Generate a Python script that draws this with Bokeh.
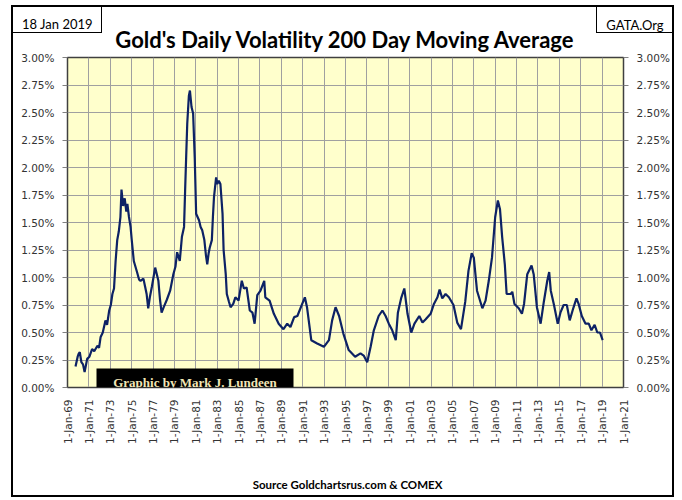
from bokeh.plotting import figure
from bokeh.models import (Range1d, LinearAxis, FixedTicker, PrintfTickFormatter,
                          Label, BoxAnnotation, ColumnDataSource, InlineStyleSheet)
from bokeh.embed import file_html
from bokeh.resources import INLINE
import math

# ---- data (decimal year, volatility in %) ----
years = [1969.75, 1969.95, 1970.06, 1970.15, 1970.3, 1970.45, 1970.6, 1970.84, 1971.05, 1971.3,
         1971.5, 1971.8, 1971.95, 1972.1, 1972.3, 1972.55, 1972.7, 1972.9, 1973.05, 1973.2,
         1973.35, 1973.5, 1973.65, 1973.8, 1973.95, 1974.05, 1974.2, 1974.35, 1974.5, 1974.6,
         1974.75, 1974.9, 1975.0, 1975.2, 1975.5, 1975.7, 1975.83, 1976.1, 1976.25, 1976.4,
         1976.55, 1976.7, 1976.9, 1977.2, 1977.5, 1977.65, 1977.8, 1978.0, 1978.3, 1978.6,
         1978.9, 1979.1, 1979.25, 1979.5, 1979.7, 1979.9, 1980.0, 1980.1, 1980.2, 1980.35,
         1980.45, 1980.6, 1980.75, 1980.9, 1981.03, 1981.3, 1981.45, 1981.6, 1981.8, 1981.95,
         1982.07, 1982.2, 1982.3, 1982.5, 1982.6, 1982.7, 1982.9, 1983.0, 1983.15, 1983.3,
         1983.5, 1983.6, 1983.8, 1983.9, 1984.1, 1984.25, 1984.5, 1984.7, 1985.0, 1985.3,
         1985.5, 1985.75, 1986.05, 1986.3, 1986.5, 1986.75, 1987.05, 1987.4, 1987.5, 1987.9,
         1988.3, 1988.75, 1989.2, 1989.55, 1989.85, 1990.2, 1990.5, 1990.95, 1991.2, 1991.4,
         1991.8, 1992.35, 1992.98, 1993.45, 1993.75, 1994.07, 1994.4, 1994.8, 1995.3, 1995.9,
         1996.4, 1996.7, 1997.03, 1997.35, 1997.65, 1998.1, 1998.45, 1998.75, 1999.05, 1999.37,
         1999.7, 1999.9, 2000.2, 2000.5, 2000.8, 2001.15, 2001.45, 2001.9, 2002.2, 2002.5,
         2002.96, 2003.27, 2003.6, 2003.8, 2004.05, 2004.36, 2004.67, 2005.1, 2005.45, 2005.8,
         2006.2, 2006.5, 2006.8, 2007.0, 2007.3, 2007.8, 2008.1, 2008.4, 2008.7, 2009.0,
         2009.25, 2009.45, 2009.65, 2009.9, 2010.07, 2010.45, 2010.6, 2010.8, 2011.2, 2011.5,
         2011.7, 2012.0, 2012.4, 2012.6, 2012.9, 2013.25, 2013.55, 2013.87, 2014.05, 2014.2,
         2014.5, 2014.85, 2015.1, 2015.4, 2015.7, 2015.97, 2016.3, 2016.6, 2016.8, 2017.1,
         2017.45, 2017.75, 2018.0, 2018.3, 2018.55, 2018.8, 2019.05]
volatility = [0.19, 0.28, 0.31, 0.32, 0.23, 0.21, 0.14, 0.26, 0.28, 0.35,
              0.33, 0.38, 0.36, 0.46, 0.50, 0.61, 0.57, 0.70, 0.75, 0.85,
              0.90, 1.15, 1.34, 1.42, 1.55, 1.80, 1.65, 1.72, 1.60, 1.67,
              1.55, 1.46, 1.35, 1.15, 1.05, 0.98, 0.97, 0.99, 0.92, 0.85,
              0.72, 0.82, 0.92, 1.09, 0.97, 0.80, 0.68, 0.73, 0.80, 0.88,
              1.03, 1.10, 1.23, 1.15, 1.37, 1.46, 1.79, 2.10, 2.40, 2.65,
              2.70, 2.55, 2.49, 2.09, 1.58, 1.52, 1.46, 1.43, 1.34, 1.20,
              1.12, 1.22, 1.27, 1.34, 1.55, 1.73, 1.91, 1.85, 1.88, 1.85,
              1.58, 1.25, 1.03, 0.85, 0.78, 0.73, 0.76, 0.82, 0.79, 0.97,
              0.90, 0.91, 0.70, 0.68, 0.58, 0.84, 0.88, 0.97, 0.82, 0.79,
              0.67, 0.58, 0.53, 0.58, 0.55, 0.64, 0.65, 0.76, 0.82, 0.73,
              0.43, 0.40, 0.37, 0.43, 0.61, 0.73, 0.65, 0.49, 0.34, 0.28,
              0.31, 0.29, 0.23, 0.37, 0.52, 0.65, 0.70, 0.65, 0.58, 0.52,
              0.43, 0.68, 0.81, 0.90, 0.67, 0.50, 0.58, 0.65, 0.59, 0.62,
              0.67, 0.76, 0.82, 0.89, 0.81, 0.85, 0.82, 0.75, 0.59, 0.53,
              0.78, 1.06, 1.22, 1.18, 0.88, 0.72, 0.79, 0.97, 1.18, 1.55,
              1.70, 1.62, 1.37, 1.12, 0.85, 0.85, 0.87, 0.76, 0.72, 0.67,
              0.76, 1.03, 1.11, 1.03, 0.73, 0.58, 0.78, 0.97, 1.05, 0.88,
              0.75, 0.58, 0.68, 0.75, 0.75, 0.61, 0.72, 0.81, 0.76, 0.65,
              0.58, 0.58, 0.52, 0.57, 0.50, 0.50, 0.43]

y_ticks = [0.0, 0.25, 0.5, 0.75, 1.0, 1.25, 1.5, 1.75, 2.0, 2.25, 2.5, 2.75, 3.0]
x_ticks = [1969, 1971, 1973, 1975, 1977, 1979, 1981, 1983, 1985, 1987, 1989, 1991, 1993,
           1995, 1997, 1999, 2001, 2003, 2005, 2007, 2009, 2011, 2013, 2015, 2017, 2019, 2021]
x_labels = ["1-Jan-69", "1-Jan-71", "1-Jan-73", "1-Jan-75", "1-Jan-77", "1-Jan-79",
            "1-Jan-81", "1-Jan-83", "1-Jan-85", "1-Jan-87", "1-Jan-89", "1-Jan-91",
            "1-Jan-93", "1-Jan-95", "1-Jan-97", "1-Jan-99", "1-Jan-01", "1-Jan-03",
            "1-Jan-05", "1-Jan-07", "1-Jan-09", "1-Jan-11", "1-Jan-13", "1-Jan-15",
            "1-Jan-17", "1-Jan-19", "1-Jan-21"]

title_text = "Gold's Daily Volatility 200 Day Moving Average"
date_text = "18 Jan 2019"
org_text = "GATA.Org"
source_text = "Source Goldchartsrus.com & COMEX"
credit_text = "Graphic by Mark J. Lundeen"

# ---- layout ----
FL, FT, FW, FH = 67, 57, 556, 330
W, H = 682, 500
X0, X1, Y0, Y1 = 1969, 2021, 0.0, 3.0


def X(px):
    return X0 + (px - FL) * (X1 - X0) / FW


def Y(py):
    return Y0 + (FT + FH - py) * (Y1 - Y0) / FH


# outer frame and header boxes, drawn as thin lines over the canvas
frame_css = InlineStyleSheet(css="""
:host { position: relative; }
:host::after {
  content: ""; position: absolute; left: 0; top: 0; width: 682px; height: 500px;
  pointer-events: none;
  background:
    linear-gradient(#000, #000) 11px 5px / 663px 2px no-repeat,
    linear-gradient(#000, #000) 11px 495px / 663px 2px no-repeat,
    linear-gradient(#000, #000) 11px 5px / 2px 492px no-repeat,
    linear-gradient(#000, #000) 672px 5px / 2px 492px no-repeat,
    linear-gradient(#000, #000) 101px 6px / 1px 27px no-repeat,
    linear-gradient(#000, #000) 12px 32px / 90px 1px no-repeat,
    linear-gradient(#000, #000) 596px 6px / 1px 27px no-repeat,
    linear-gradient(#000, #000) 596px 32px / 77px 1px no-repeat;
}
""")

p = figure(frame_width=FW, frame_height=FH,
           x_range=Range1d(X0, X1), y_range=Range1d(Y0, Y1),
           output_backend="svg", toolbar_location=None,
           min_border_left=FL, min_border_right=W - FL - FW,
           min_border_top=FT, min_border_bottom=H - FT - FH)
p.stylesheets = [frame_css]
p.background_fill_color = "#FFFFCC"
p.border_fill_color = "white"
p.outline_line_color = "#404040"
p.outline_line_width = 1.5

src = ColumnDataSource(dict(x=years, y=volatility))
p.line("x", "y", source=src, line_color="#0D2265", line_width=2.2)

tick_font = "DejaVu Sans"
yt = FixedTicker(ticks=y_ticks)
p.yaxis.ticker = yt
p.yaxis.formatter = PrintfTickFormatter(format="%.2f%%")
right = LinearAxis(ticker=FixedTicker(ticks=y_ticks), formatter=PrintfTickFormatter(format="%.2f%%"))
p.add_layout(right, "right")
for ax in [p.yaxis[0], right]:
    ax.major_label_text_font = tick_font
    ax.major_label_text_font_size = "10.5px"
    ax.major_label_text_color = "#333333"
    ax.major_tick_out = 5
    ax.major_tick_in = 0
    ax.minor_tick_out = 0
    ax.minor_tick_in = 0
    ax.major_tick_line_color = "#808080"
    ax.axis_line_color = "#404040"
    ax.major_label_standoff = 8

xt = FixedTicker(ticks=x_ticks)
p.xaxis.ticker = xt
p.xaxis.major_label_overrides = {t: l for t, l in zip(x_ticks, x_labels)}
p.xaxis.major_label_orientation = math.pi / 2
p.xaxis.major_label_text_font = tick_font
p.xaxis.major_label_text_font_size = "10.5px"
p.xaxis.major_label_text_color = "#333333"
p.xaxis.major_tick_out = 0
p.xaxis.major_tick_in = 0
p.xaxis.minor_tick_out = 0
p.xaxis.minor_tick_in = 0
p.xaxis.axis_line_color = "#404040"
p.xaxis.major_label_standoff = 12

p.xgrid.ticker = xt
p.ygrid.ticker = yt
for g in [p.xgrid[0], p.ygrid[0]]:
    g.grid_line_color = "#A0A0A0"
    g.grid_line_width = 1

# credit box inside the plot
p.add_layout(BoxAnnotation(left=X(96), right=X(293), bottom=Y(387), top=Y(368),
                           fill_color="black", fill_alpha=1, line_color=None))
p.add_layout(Label(x=X(194.5), y=Y(382), text=credit_text, text_align="center",
                   text_baseline="alphabetic", text_font="Liberation Serif",
                   text_font_style="bold", text_font_size="13px", text_color="#F2E6B6"))

# texts outside the frame: placed in side panels so that they are not clipped
title_lbl = Label(x=X(345.5), y=Y(39), text=title_text, text_align="center",
                  text_baseline="alphabetic", text_font="Lato",
                  text_font_style="bold", text_font_size="22px", text_color="black")
date_lbl = Label(x=X(57), y=Y(23.5), text=date_text, text_align="center",
                 text_baseline="alphabetic", text_font="Lato", text_font_size="13px",
                 text_color="black")
org_lbl = Label(x=X(634.5), y=Y(24), text=org_text, text_align="center",
                text_baseline="alphabetic", text_font="Lato", text_font_size="13px",
                text_color="black")
source_lbl = Label(x=X(347), y=Y(484), text=source_text, text_align="center",
                   text_baseline="alphabetic", text_font="Lato",
                   text_font_style="bold", text_font_size="11.5px", text_color="black")
p.add_layout(title_lbl, "above")
p.add_layout(date_lbl, "above")
p.add_layout(org_lbl, "below")
p.add_layout(source_lbl, "below")

open("out.html", "w").write(file_html(p, INLINE))
